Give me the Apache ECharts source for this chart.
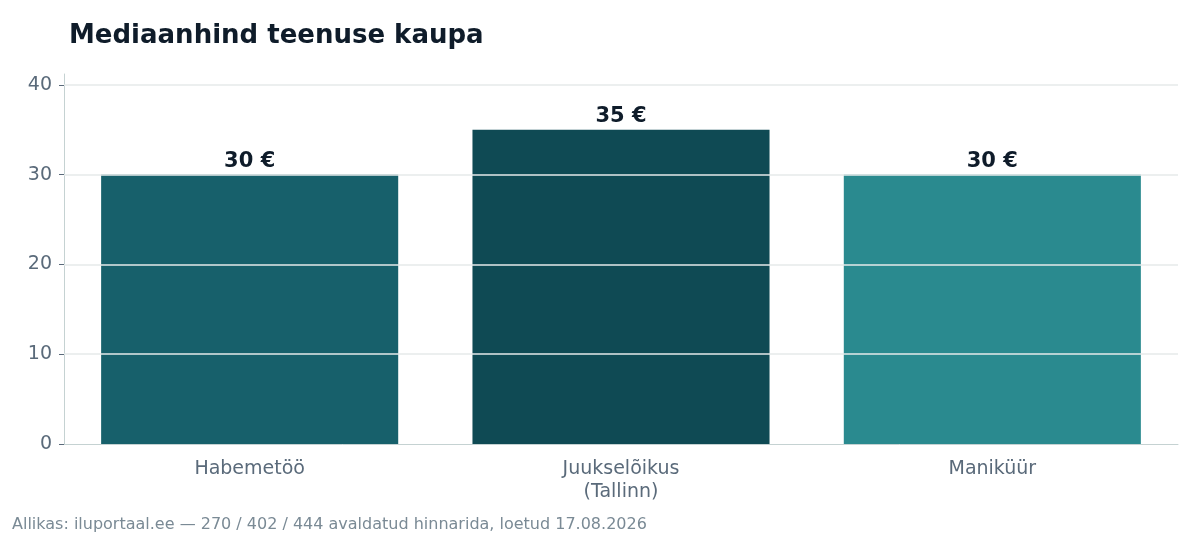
<!DOCTYPE html><html><head><meta charset="utf-8"><script src="https://cdn.jsdelivr.net/npm/echarts@6/dist/echarts.min.js"></script>
<style>body{margin:0}#c{width:1200px;height:540px}</style></head><body><div id="c"></div><script>
const categories=['Habemetöö','Juukselõikus\n(Tallinn)','Maniküür'];
const values=[30,35,30];
const colors=['#17606b','#0f4a54','#2a8a8f'];
const gridValues=[10,20,30,40];
const ch=echarts.init(document.getElementById('c'));
const F='DejaVu Sans';
ch.setOption({animation:false,textStyle:{fontFamily:F},
title:{text:'Mediaanhind teenuse kaupa',left:64,top:18,textStyle:{fontFamily:F,fontSize:26,fontWeight:'bold',color:'#0f1c2a'}},
graphic:[{type:'text',left:12,top:517,style:{text:'Allikas: iluportaal.ee — 270 / 402 / 444 avaldatud hinnarida, loetud 17.08.2026',font:'16px "DejaVu Sans"',fill:'#7a8a95'}}],
grid:{left:64,right:22,top:74,bottom:96},
xAxis:{type:'category',data:categories,axisLine:{lineStyle:{color:'#c5d2d2'}},axisTick:{alignWithLabel:true,lineStyle:{color:'#5a6a7a'}},axisLabel:{fontSize:19,color:'#5a6a7a',lineHeight:23,margin:14}},
yAxis:{type:'value',min:0,max:41.2,interval:10,axisLine:{show:true,lineStyle:{color:'#c5d2d2'}},axisTick:{show:true,lineStyle:{color:'#5a6a7a'}},splitLine:{show:false},axisLabel:{fontSize:19,color:'#5a6a7a',showMaxLabel:false,margin:12}},
series:[{type:'bar',barWidth:'80%',data:values.map((v,i)=>({value:v,itemStyle:{color:colors[i]}})),
label:{show:true,position:'top',formatter:'{c} €',fontSize:21,fontWeight:'bold',color:'#0f1c2a',distance:3},
markLine:{silent:true,symbol:'none',label:{show:false},lineStyle:{color:'#e6eaea',type:'solid',width:1.5},data:gridValues.map(v=>({yAxis:v}))},z:2}]});
</script></body></html>
